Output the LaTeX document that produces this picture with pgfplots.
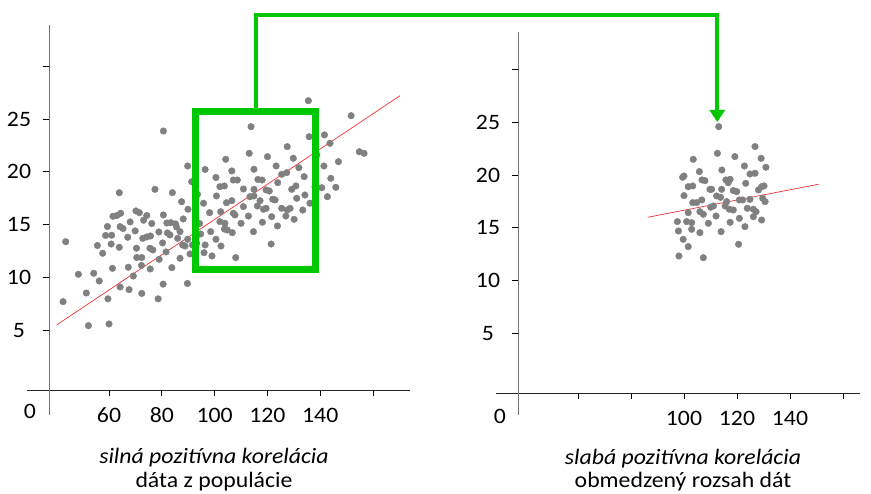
\documentclass[border=0pt]{standalone}
\usepackage{fontspec}
\setmainfont{Carlito}[FakeStretch=1.08]
\usepackage{pgfplots}
\pgfplotsset{compat=1.18}
\usetikzlibrary{arrows.meta}
\definecolor{ptgray}{RGB}{128,128,128}
\definecolor{grn}{RGB}{0,200,0}
\definecolor{rl}{RGB}{240,50,50}
\pgfplotsset{
  myax/.style={
    scale only axis,
    axis x line*=bottom, axis y line*=left,
    x axis line style={black!85, line width=0.8pt},
    y axis line style={black!55, line width=0.8pt},
    tick align=outside,
    major tick length=6pt,
    tick style={black, line width=0.8pt},
    ytick={5,10,15,20,25,30},
    yticklabels={5,10,15,20,25,},
    xtick={60,80,100,120,140,160},
    ticklabel style={font=\fontsize{22}{26}\selectfont},
    yticklabel style={anchor=center, xshift=-24pt},
    xticklabel style={anchor=center, yshift=-19pt},
    clip=false,
    /pgf/number format/assume math mode=true,
  },
  pts/.style={ptgray, only marks, mark=*, mark size=3.3pt, mark options={draw=none, fill=ptgray}},
}
\begin{document}
\begin{tikzpicture}
\useasboundingbox (0pt,0pt) rectangle (871pt,494pt);
% left panel
\begin{axis}[myax, at={(49pt,104pt)}, anchor=south west, width=361pt, height=365pt,
  xmin=37.27, xmax=174.0, ymin=-0.663, ymax=33.90,
  xticklabels={60,80,100,120,140,}]
\addplot[pts] table {
43.6 13.38
80.6 23.86
55.6 13.02
57.6 12.28
63.9 18.02
77.4 18.34
84.0 18.02
89.8 20.55
91.3 19.06
87.5 17.17
70.2 16.29
71.5 16.13
61.5 15.79
63.0 15.86
64.4 16.07
59.4 14.82
64.2 14.80
65.3 14.63
68.0 15.25
74.3 15.86
73.1 15.41
69.9 14.40
80.6 15.91
76.2 15.10
81.9 15.15
83.4 15.18
85.2 15.06
85.6 14.77
88.1 15.53
89.9 16.45
58.7 13.97
61.0 13.99
67.1 13.80
72.8 13.70
74.3 13.83
75.7 13.92
78.9 14.30
82.1 14.21
83.1 14.02
86.9 14.33
80.3 13.26
86.0 13.70
89.8 13.61
93.2 13.92
60.8 13.16
63.9 12.85
70.4 12.76
75.5 12.76
76.6 12.60
81.6 12.41
87.9 13.07
88.8 12.97
70.5 11.88
72.4 11.88
79.0 11.71
86.9 11.81
90.7 12.22
61.3 10.86
67.3 10.96
72.3 11.13
75.6 10.80
83.8 10.92
48.4 10.29
54.2 10.39
56.3 9.66
69.2 10.13
51.4 8.52
64.2 9.09
67.6 8.84
72.4 8.48
80.5 9.36
89.7 9.42
59.6 7.97
78.6 7.97
42.6 7.70
52.2 5.43
60.0 5.59
96.4 20.22
93.5 17.85
95.8 17.02
98.1 16.13
100.5 19.46
100.7 17.71
94.3 15.10
91.6 13.07
135.5 26.73
151.7 25.31
113.8 24.27
135.8 23.32
141.6 23.49
143.7 22.70
127.5 22.38
113.1 21.75
120.0 21.43
104.2 21.18
129.8 21.28
138.7 21.59
146.9 20.96
154.8 21.90
156.6 21.75
106.5 20.08
114.9 20.24
123.3 20.55
125.4 19.76
127.3 19.92
131.9 20.39
141.4 20.55
107.1 19.22
108.6 19.22
116.4 19.27
118.0 19.22
123.9 18.97
133.9 19.54
144.0 19.38
102.0 18.59
103.7 18.66
110.9 18.37
114.9 18.34
119.5 18.28
120.7 18.18
129.2 18.34
130.8 18.66
138.0 18.59
140.6 18.49
145.9 18.53
113.4 17.64
114.9 17.71
117.2 17.26
122.0 17.40
122.9 17.33
131.1 17.49
134.2 17.80
142.7 17.64
104.5 17.07
106.5 17.26
110.9 16.70
116.2 16.76
118.5 16.45
119.5 16.54
125.4 16.54
127.5 16.38
128.6 16.54
133.4 16.38
136.1 17.02
102.3 16.22
107.1 16.07
107.7 15.91
112.8 15.81
121.6 15.75
127.0 15.81
130.1 15.50
102.0 15.28
103.9 15.12
110.0 15.12
118.1 15.22
123.8 14.87
94.7 14.11
98.5 14.33
103.7 14.58
104.8 14.49
106.7 14.23
114.7 14.33
96.4 13.07
100.5 13.61
102.4 12.97
121.4 13.16
96.0 12.34
99.0 12.03
108.0 11.87
93.2 13.23
};
\addplot[rl, line width=0.7pt] coordinates {(40.2,5.5) (170.2,27.2)};
\draw[black!85, line width=0.8pt] (axis cs:28.94,-0.663) -- (axis cs:37.27,-0.663);
\draw[black!55, line width=0.8pt] (axis cs:37.27,-0.663) -- (axis cs:37.27,-3.03);
\end{axis}
% right panel
\begin{axis}[myax, at={(518pt,101pt)}, anchor=south west, width=342pt, height=361pt,
  xmin=37.36, xmax=166.42, ymin=-0.664, ymax=33.55,
  xticklabels={,,100,120,140,}]
\addplot[pts] table {
113.1 24.58
126.8 22.69
112.6 22.05
103.5 21.48
119.2 21.74
129.1 21.58
122.8 20.85
130.9 20.73
114.3 20.47
105.8 20.32
124.9 20.09
126.8 20.16
99.5 19.78
100.0 19.90
106.8 19.53
107.9 19.46
115.8 19.53
117.4 19.59
116.7 19.27
123.3 19.21
101.6 18.89
103.3 18.96
109.8 18.64
110.4 18.64
114.2 18.64
129.3 18.89
130.2 18.96
118.6 18.52
119.9 18.42
128.1 18.58
100.0 18.04
112.3 18.01
113.8 17.88
106.7 17.63
104.8 17.38
103.3 17.38
116.1 17.47
120.9 17.63
122.1 17.63
124.9 17.69
129.7 17.79
130.6 17.47
110.1 16.94
111.1 17.06
115.5 17.06
117.1 16.75
118.6 16.68
123.9 16.84
126.2 16.75
127.2 16.52
101.6 16.43
106.0 16.52
107.3 16.27
112.1 16.11
126.2 16.05
97.5 15.58
101.0 15.58
102.9 15.48
109.2 15.42
117.4 15.51
120.9 15.89
129.3 15.73
123.0 15.10
102.9 14.85
97.9 14.69
106.0 14.53
114.0 14.63
99.7 13.90
101.6 13.21
120.6 13.43
98.1 12.32
107.3 12.16
};
\addplot[rl, line width=0.7pt] coordinates {(86.3,15.99) (150.8,19.12)};
\draw[black!85, line width=0.8pt] (axis cs:29.06,-0.664) -- (axis cs:37.36,-0.664);
\draw[black!55, line width=0.8pt] (axis cs:37.36,-0.664) -- (axis cs:37.36,-2.75);
\end{axis}
% zero labels
\node[font=\fontsize{22}{26}\selectfont, anchor=center] at (30pt,83pt) {0};
\node[font=\fontsize{22}{26}\selectfont, anchor=center] at (500pt,78pt) {0};
% green box and connector
\draw[grn, line width=7pt] (195.5pt,224.5pt) rectangle (315pt,382.5pt);
\draw[grn, line width=4pt, -{Triangle[width=15pt,length=12pt]}] (255.5pt,386pt) -- (255.5pt,479.3pt) -- (717.3pt,479.3pt) -- (717.3pt,372pt);
% captions
\node[font=\fontsize{22}{26}\selectfont\itshape, anchor=base] at (214pt,30pt) {silná pozitívna korelácia};
\node[font=\fontsize{22}{26}\selectfont, anchor=base] at (214pt,6pt) {dáta z populácie};
\node[font=\fontsize{22}{26}\selectfont\itshape, anchor=base] at (683pt,29pt) {slabá pozitívna korelácia};
\node[font=\fontsize{22}{26}\selectfont, anchor=base] at (683pt,6pt) {obmedzený rozsah dát};
\end{tikzpicture}
\end{document}
